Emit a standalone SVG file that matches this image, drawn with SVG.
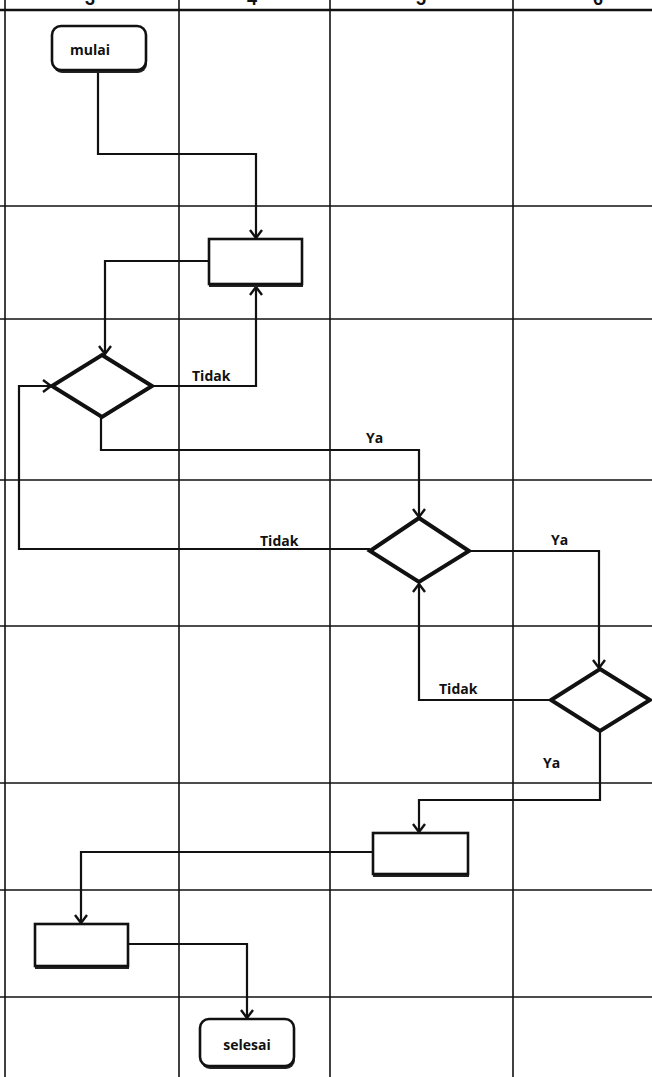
<svg xmlns="http://www.w3.org/2000/svg" width="652" height="1077" viewBox="0 0 652 1077">
<style>
.grid{stroke:#111;stroke-width:1.6;fill:none}
.conn{stroke:#111;stroke-width:2.2;fill:none}
.node{fill:#fff;stroke:#111;stroke-width:2.6}
.shadow{fill:#222;stroke:none}
.dia{fill:#fff;stroke:#111;stroke-width:4;stroke-linejoin:miter}
.lbl{font-family:"Open Sans","Liberation Sans",Arial,sans-serif;font-weight:bold;font-size:14px;fill:#111}
.hdr{font-family:"Liberation Sans",Arial,sans-serif;font-weight:bold;font-size:18px;fill:#111}
</style>
<defs>
<marker id="arr" viewBox="-10 -8 12 16" refX="0" refY="0" markerWidth="12" markerHeight="16" markerUnits="userSpaceOnUse" orient="auto">
<path d="M-8,-6 L0,0 L-8,6" fill="none" stroke="#111" stroke-width="2.4"/>
</marker>
</defs>
<rect width="652" height="1077" fill="#fff"/>
<g id="grid">
<line class="grid" x1="5" y1="0" x2="5" y2="1077"/>
<line class="grid" x1="179" y1="0" x2="179" y2="1077"/>
<line class="grid" x1="330" y1="0" x2="330" y2="1077"/>
<line class="grid" x1="513" y1="0" x2="513" y2="1077"/>
<line class="grid" x1="0" y1="10" x2="652" y2="10" style="stroke-width:2.4"/>
<line class="grid" x1="0" y1="206" x2="652" y2="206"/>
<line class="grid" x1="0" y1="319" x2="652" y2="319"/>
<line class="grid" x1="0" y1="480" x2="652" y2="480"/>
<line class="grid" x1="0" y1="626" x2="652" y2="626"/>
<line class="grid" x1="0" y1="783" x2="652" y2="783"/>
<line class="grid" x1="0" y1="890" x2="652" y2="890"/>
<line class="grid" x1="0" y1="997" x2="652" y2="997"/>
<text class="hdr" x="90" y="5" text-anchor="middle">3</text>
<text class="hdr" x="252" y="5" text-anchor="middle">4</text>
<text class="hdr" x="421" y="5" text-anchor="middle">5</text>
<text class="hdr" x="598" y="5" text-anchor="middle">6</text>
</g>
<g id="connectors">
<path class="conn" d="M98,71 V154 H256 V238" marker-end="url(#arr)"/>
<path class="conn" d="M209,261 H105 V354" marker-end="url(#arr)"/>
<path class="conn" d="M152,386 H256 V287" marker-end="url(#arr)"/>
<path class="conn" d="M101,417 V450 H419 V517" marker-end="url(#arr)"/>
<path class="conn" d="M370,549 H19 V386 H51" marker-end="url(#arr)"/>
<path class="conn" d="M469,551 H599 V668" marker-end="url(#arr)"/>
<path class="conn" d="M551,700 H419 V584" marker-end="url(#arr)"/>
<path class="conn" d="M600,731 V800 H419 V832" marker-end="url(#arr)"/>
<path class="conn" d="M373,852 H81 V923" marker-end="url(#arr)"/>
<path class="conn" d="M128,944 H247 V1018" marker-end="url(#arr)"/>
<text class="lbl" x="192" y="381">Tidak</text>
<text class="lbl" x="366" y="443">Ya</text>
<text class="lbl" x="260" y="546">Tidak</text>
<text class="lbl" x="551" y="545">Ya</text>
<text class="lbl" x="439" y="694">Tidak</text>
<text class="lbl" x="543" y="768">Ya</text>
</g>
<g id="mulai">
<rect class="shadow" x="53" y="28" width="94" height="45" rx="9"/>
<rect class="node" x="52" y="26" width="94" height="44" rx="9"/>
<text class="lbl" x="90" y="55" text-anchor="middle">mulai</text>
</g>
<g id="box1">
<rect class="shadow" x="209" y="241" width="94" height="46"/>
<rect class="node" x="209" y="239" width="93" height="45"/>
</g>
<g id="decision1">
<polygon class="dia" points="102,355 152,386 102,417 52,386"/>
</g>
<g id="decision2">
<polygon class="dia" points="419,518 469,551 419,582 370,551"/>
</g>
<g id="decision3">
<polygon class="dia" points="600,669 650,700 600,731 551,700"/>
</g>
<g id="box3">
<rect class="shadow" x="373" y="835" width="96" height="42"/>
<rect class="node" x="373" y="833" width="95" height="41"/>
</g>
<g id="box4">
<rect class="shadow" x="35" y="926" width="94" height="43"/>
<rect class="node" x="35" y="924" width="93" height="42"/>
</g>
<g id="selesai">
<rect class="shadow" x="201" y="1021" width="94" height="48" rx="9"/>
<rect class="node" x="200" y="1019" width="94" height="47" rx="9"/>
<text class="lbl" x="247" y="1050" text-anchor="middle">selesai</text>
</g>
</svg>
